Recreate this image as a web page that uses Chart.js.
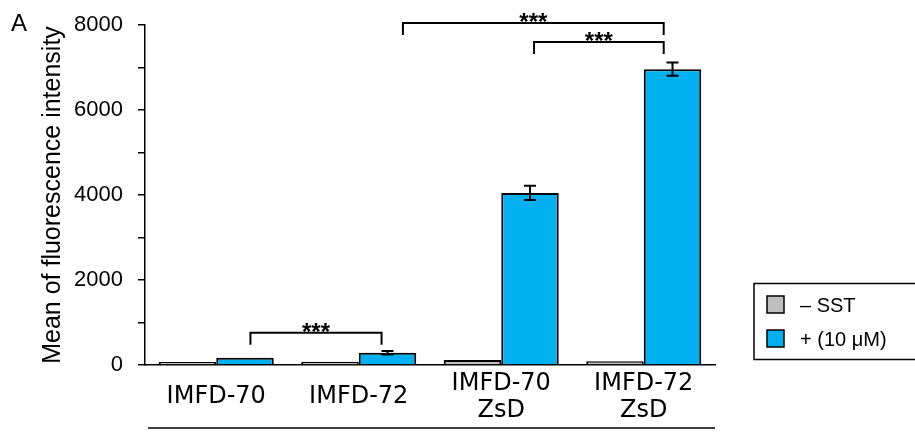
<!DOCTYPE html>
<html>
<head>
<meta charset="utf-8">
<script src="https://cdn.jsdelivr.net/npm/chart.js@4/dist/chart.umd.min.js"></script>
<style>
  html, body { margin: 0; padding: 0; background: #ffffff; }
  #wrap { width: 915px; height: 433px; position: relative; }
</style>
</head>
<body>
<div id="wrap"><canvas id="chart" width="915" height="433"></canvas></div>
<script>
const categories = [['IMFD-70'], ['IMFD-72'], ['IMFD-70', 'ZsD'], ['IMFD-72', 'ZsD']];
const seriesNames = ['\u2013 SST', '+ (10 \u03bcM)'];
const noSstValues = [70, 75, 120, 90];
const noSstErrors = [0, 0, 0, 0];
const sstValues = [170, 290, 4050, 6960];
const sstErrors = [0, 40, 170, 155];
const yTicks = [0, 2000, 4000, 6000, 8000];

// significance brackets: fractional category index from / to, y value of the bar
const bracketFrom = [0.24, 1.31, 2.23];
const bracketTo = [1.16, 3.14, 3.14];
const bracketY = [760, 8050, 7600];
const bracketText = ['***', '***', '***'];

const colors = ['#bfbfbf', '#00b0f0'];

Chart.defaults.font.family = '"Liberation Sans", Arial, sans-serif';
Chart.defaults.color = '#000000';

const errorBars = {
    id: 'errorBars',
    afterDatasetsDraw(chart) {
        const ctx = chart.ctx;
        const y = chart.scales.y;
        const errs = [noSstErrors, sstErrors];
        ctx.save();
        ctx.strokeStyle = '#000000';
        ctx.lineWidth = 2;
        chart.data.datasets.forEach((ds, di) => {
            const meta = chart.getDatasetMeta(di);
            meta.data.forEach((bar, i) => {
                const e = errs[di][i];
                if (!e) return;
                const v = ds.data[i];
                const top = y.getPixelForValue(v + e);
                const bot = y.getPixelForValue(v - e);
                ctx.beginPath();
                ctx.moveTo(bar.x, top); ctx.lineTo(bar.x, bot);
                ctx.moveTo(bar.x - 6, top); ctx.lineTo(bar.x + 6, top);
                ctx.moveTo(bar.x - 6, bot); ctx.lineTo(bar.x + 6, bot);
                ctx.stroke();
            });
        });
        ctx.restore();
    }
};

const extras = {
    id: 'extras',
    afterDraw(chart) {
        const ctx = chart.ctx;
        const x = chart.scales.x;
        const y = chart.scales.y;
        const area = chart.chartArea;
        ctx.save();
        ctx.strokeStyle = '#000000';
        ctx.fillStyle = '#000000';
        ctx.lineWidth = 2;
        // brackets
        for (let i = 0; i < bracketFrom.length; i++) {
            const x1 = x.getPixelForValue(bracketFrom[i]);
            const x2 = x.getPixelForValue(bracketTo[i]);
            const yy = y.getPixelForValue(bracketY[i]);
            ctx.beginPath();
            ctx.moveTo(x1, yy + 12); ctx.lineTo(x1, yy); ctx.lineTo(x2, yy); ctx.lineTo(x2, yy + 12);
            ctx.stroke();
            ctx.font = 'bold 24px "Liberation Sans", Arial, sans-serif';
            ctx.textAlign = 'center';
            ctx.textBaseline = 'alphabetic';
            ctx.fillText(bracketText[i], (x1 + x2) / 2, yy + 7);
        }
        // category labels, centred vertically under the axis
        ctx.font = '24px "DejaVu Sans", Verdana, sans-serif';
        ctx.textAlign = 'center';
        ctx.textBaseline = 'middle';
        categories.forEach((lines, i) => {
            const cx = x.getPixelForValue(i);
            lines.forEach((t, j) => {
                ctx.fillText(t, cx, area.bottom + 32 + (j - (lines.length - 1) / 2) * 27);
            });
        });
        // line below the category labels
        ctx.lineWidth = 1.5;
        ctx.beginPath();
        ctx.moveTo(area.left + 3, 428); ctx.lineTo(area.right, 428);
        ctx.stroke();
        // panel letter
        ctx.font = '24px "Liberation Sans", Arial, sans-serif';
        ctx.textAlign = 'left';
        ctx.textBaseline = 'alphabetic';
        ctx.fillText('A', 11, 31);
        // legend
        ctx.lineWidth = 1.5;
        ctx.strokeRect(754, 283.5, 200, 76);
        ctx.font = '20px "Liberation Sans", Arial, sans-serif';
        ctx.textBaseline = 'middle';
        seriesNames.forEach((name, i) => {
            const top = 296 + i * 34;
            ctx.fillStyle = colors[i];
            ctx.fillRect(767, top, 17, 17);
            ctx.strokeRect(767, top, 17, 17);
            ctx.fillStyle = '#000000';
            ctx.fillText(name, 800, top + 10);
        });
        ctx.restore();
    }
};

new Chart(document.getElementById('chart'), {
    type: 'bar',
    data: {
        labels: categories.map((l) => l.join(' ')),
        datasets: [
            { label: seriesNames[0], data: noSstValues, backgroundColor: colors[0], borderColor: '#000000', borderWidth: 2 },
            { label: seriesNames[1], data: sstValues, backgroundColor: colors[1], borderColor: '#000000', borderWidth: 2 },
        ],
    },
    options: {
        responsive: false,
        animation: false,
        layout: { padding: { left: 38, right: 200, top: 25, bottom: 0 } },
        datasets: { bar: { barPercentage: 1, categoryPercentage: 0.807 } },
        scales: {
            x: {
                grid: { display: false, drawTicks: false },
                border: { display: true, color: '#000000', width: 1.5 },
                ticks: { display: false },
                afterFit: (scale) => { scale.height = 68; },
            },
            y: {
                min: 0,
                max: 8000,
                grid: { display: true, drawOnChartArea: false, drawTicks: true, tickLength: 7, color: '#000000', lineWidth: 1.5 },
                border: { display: true, color: '#000000', width: 1.5 },
                ticks: {
                    stepSize: 1000,
                    font: { size: 22 },
                    color: '#000000',
                    padding: 15,
                    callback: (v) => (yTicks.includes(v) ? String(v) : ''),
                },
                title: {
                    display: true,
                    text: 'Mean of fluorescence intensity',
                    font: { size: 25 },
                    color: '#000000',
                    padding: 0,
                },
                afterFit: (scale) => {
                    scale.width = 107;
                    scale.paddingTop = 12;
                    scale.paddingBottom = 12;
                },
            },
        },
        plugins: {
            legend: { display: false },
            tooltip: { enabled: false },
        },
    },
    plugins: [errorBars, extras],
});
</script>
</body>
</html>
